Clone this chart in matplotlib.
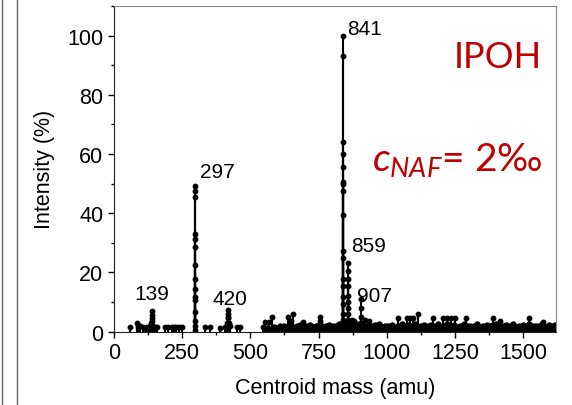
import matplotlib
matplotlib.use("Agg")
import matplotlib.pyplot as plt
from matplotlib.lines import Line2D
from matplotlib.ticker import MultipleLocator

plt.rcParams['font.family'] = ['Liberation Sans', 'DejaVu Sans']
plt.rcParams['mathtext.fontset'] = 'custom'
plt.rcParams['mathtext.it'] = 'Lato:italic'
plt.rcParams['mathtext.rm'] = 'Lato'

# centroid peaks (mass in amu, intensity in %)
peak_mass = [59, 84, 90, 95, 106, 115, 121, 128, 132, 136,
             139, 139, 139, 139, 143, 147, 150, 157,
             187, 198, 212, 220, 228, 240, 249,
             297, 297, 297, 297, 297, 297, 297, 297, 297, 297, 297, 297, 297, 297, 297,
             333, 352, 388, 407, 414, 418, 420, 420, 420, 422, 425, 450, 461,
             546, 553, 570, 578, 639, 650, 657, 694, 754, 755,
             841, 841, 841, 841, 841, 841, 841, 841, 841, 841, 841, 841, 841, 841, 841,
             841, 841, 841,
             859, 859, 859, 859, 859, 859, 859, 859, 859, 859,
             872, 880, 907, 907, 907, 907, 920, 935,
             1040, 1073, 1084, 1095, 1115, 1170, 1205, 1220, 1235, 1250,
             1292, 1389, 1414, 1520, 1572]
peak_int = [1.5, 3.0, 1.5, 1.8, 1.5, 1.2, 1.5, 1.5, 2.0, 3.0,
            7.0, 5.5, 4.5, 3.5, 2.0, 1.5, 1.5, 1.5,
            1.5, 1.5, 1.5, 1.5, 1.5, 1.5, 1.5,
            49.2, 47.6, 45.4, 33.0, 31.3, 28.6, 22.4, 17.9, 14.4, 11.6, 10.5, 6.6, 3.7, 2.0, 0.5,
            1.5, 1.5, 1.2, 1.5, 3.0, 5.0, 7.2, 6.0, 4.5, 3.0, 2.0, 1.5, 1.5,
            1.5, 3.1, 3.1, 4.8, 4.8, 3.5, 5.9, 3.1, 3.5, 4.8,
            100.0, 93.0, 64.0, 60.0, 55.5, 50.4, 49.8, 47.6, 39.2, 27.3, 25.0, 17.7, 15.5, 11.6, 9.3,
            6.0, 4.0, 2.0,
            23.0, 20.5, 17.7, 15.5, 12.0, 10.0, 8.0, 6.0, 4.0, 2.5,
            4.0, 3.5, 11.0, 8.0, 5.0, 3.0, 4.0, 3.5,
            4.4, 4.4, 4.4, 4.4, 5.9, 4.4, 4.4, 4.4, 4.4, 4.4,
            4.4, 4.4, 3.6, 4.4, 3.1]

# dense low-level centroids above 560 amu
base_mass = [562, 574, 586, 598, 610, 622, 634, 646, 658, 670,
             682, 694, 706, 718, 730, 742, 754, 766, 778, 790,
             802, 814, 826, 838, 850, 862, 874, 886, 898, 910,
             922, 934, 946, 958, 970, 982, 994, 1006, 1018, 1030,
             1042, 1054, 1066, 1078, 1090, 1102, 1114, 1126, 1138, 1150,
             1162, 1174, 1186, 1198, 1210, 1222, 1234, 1246, 1258, 1270,
             1282, 1294, 1306, 1318, 1330, 1342, 1354, 1366, 1378, 1390,
             1402, 1414, 1426, 1438, 1450, 1462, 1474, 1486, 1498, 1510,
             1522, 1534, 1546, 1558, 1570, 1582, 1594, 1606, 1618]
base_int = [1.2, 0.8, 1.6, 1.2, 1.9, 2.0, 1.4, 2.4, 1.6, 1.8,
            2.2, 1.5, 1.9, 2.3, 1.6, 1.9, 2.4, 1.6, 2.0, 2.1,
            1.7, 1.8, 2.4, 1.8, 2.5, 1.6, 2.2, 1.9, 2.4, 1.5,
            1.9, 2.3, 1.8, 2.1, 2.4, 1.6, 2.0, 1.8, 2.3, 1.5,
            1.8, 2.4, 1.9, 2.1, 1.8, 2.4, 1.6, 1.9, 2.3, 1.8,
            2.2, 1.7, 2.4, 1.6, 1.8, 2.4, 2.0, 2.2, 1.5, 1.7,
            2.4, 1.8, 2.0, 1.9, 2.4, 1.6, 1.9, 2.3, 1.9, 2.1,
            2.4, 1.6, 1.9, 2.3, 2.0, 2.4, 1.5, 1.8, 2.2, 1.8,
            2.4, 1.7, 2.0, 1.9, 2.4, 1.6, 2.1, 1.8, 2.3]

labels = ['139', '297', '420', '841', '859', '907']
label_x = [77, 315, 362, 853, 868, 890]
label_y = [12.7, 53.9, 11.0, 102.5, 28.9, 12.0]

fig = plt.figure(figsize=(5.72, 4.06), dpi=100)
ax = fig.add_axes([0.199, 0.181, 0.773, 0.802])

ax.vlines(peak_mass, 0, peak_int, color='black', lw=1.5)
ax.plot(peak_mass, peak_int, 'o', color='black', ms=3.2)
ax.vlines(base_mass, 0, base_int, color='black', lw=3)
ax.plot(base_mass, base_int, '-o', color='black', ms=3.6, lw=2)

for t, x, y in zip(labels, label_x, label_y):
    ax.text(x, y, t, fontsize=15, ha='left', va='center')

ax.text(0.968, 0.846, 'IPOH', transform=ax.transAxes, fontsize=26,
        color='#C00000', family='Lato', ha='right', va='center')
ax.text(0.97, 0.53, r'$\mathit{c}_{\mathit{NAF}}$= 2‰', transform=ax.transAxes,
        fontsize=28, color='#C00000', family='Lato', ha='right', va='center')

ax.set_xlim(0, 1620)
ax.set_ylim(0, 110)
ax.xaxis.set_major_locator(MultipleLocator(250))
ax.xaxis.set_minor_locator(MultipleLocator(125))
ax.yaxis.set_major_locator(MultipleLocator(20))
ax.yaxis.set_minor_locator(MultipleLocator(10))
ax.tick_params(which='major', direction='out', length=4, width=1, labelsize=15.5)
ax.tick_params(which='minor', direction='out', length=2.5, width=1)
ax.set_xlabel('Centroid mass (amu)', fontsize=15.5, labelpad=10)
ax.set_ylabel('Intensity (%)', fontsize=15.5, labelpad=9)

for s in ['top', 'right']:
    ax.spines[s].set_color('#888888')
for s in ['left', 'bottom']:
    ax.spines[s].set_color('#222222')

# neighbouring panel frame lines at the left edge
fig.add_artist(Line2D([0.004, 0.004], [0, 1], color='#666666', lw=1))
fig.add_artist(Line2D([0.030, 0.030], [0, 1], color='#666666', lw=1))

fig.savefig('out.png', dpi=100)
